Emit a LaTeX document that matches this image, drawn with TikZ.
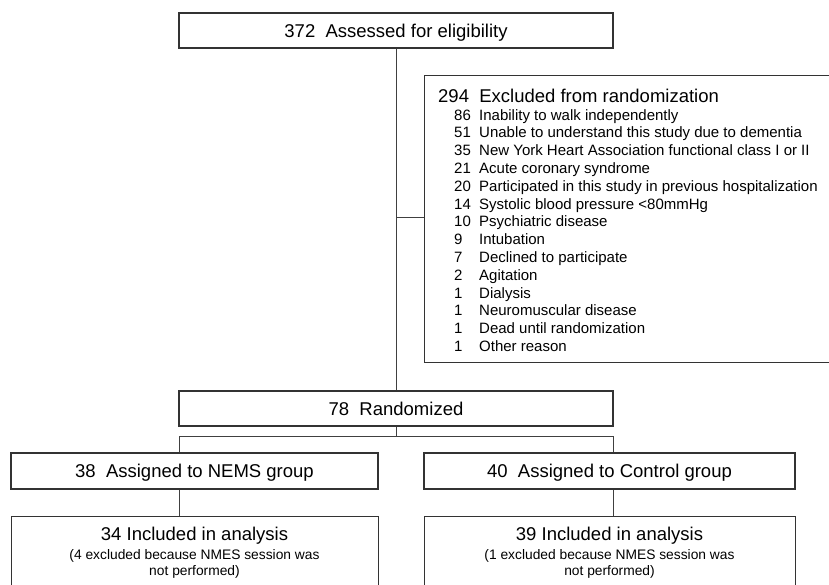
\documentclass[tikz,border=0pt]{standalone}
\usepackage{fontspec}
\setmainfont{Liberation Sans}
\begin{document}
\begin{tikzpicture}[x=1pt,y=-1pt,
  box/.style={draw=black!80,line width=1.1pt,rectangle,inner sep=0pt},
  conn/.style={draw=black!75,line width=0.8pt},
  big/.style={font=\fontsize{18.5}{20}\selectfont},
  item/.style={font=\fontsize{15}{17}\selectfont,anchor=base west,inner sep=0pt},
  sub/.style={font=\fontsize{13.8}{16}\selectfont,anchor=base,inner sep=0pt}]
\useasboundingbox (0,0) rectangle (829,584);
% top box
\node[box,big,minimum width=434pt,minimum height=35pt,text height=13pt,text depth=0pt] (top) at (396,30.5) {372\ \ Assessed for eligibility};
% excluded box
\node[box,anchor=north west,minimum width=420pt,minimum height=287pt] (excl) at (424,75) {};
\node[big,anchor=base west,inner sep=0pt] (exh) at (438,102) {294\ \ Excluded from randomization};
\foreach \n/\t [count=\i from 0] in {86/Inability to walk independently,
  51/Unable to understand this study due to dementia,
  35/New York Heart Association functional class I or II,
  21/Acute coronary syndrome,
  20/Participated in this study in previous hospitalization,
  14/Systolic blood pressure <80mmHg,
  10/Psychiatric disease,
  9/Intubation,
  7/Declined to participate,
  2/Agitation,
  1/Dialysis,
  1/Neuromuscular disease,
  1/Dead until randomization,
  1/Other reason}{
  \node[item] (en\i) at (454,{120+17.8*\i}) {\n};
  \node[item] (et\i) at (479,{120+17.8*\i}) {\t};
}
% randomized
\node[box,big,minimum width=434pt,minimum height=35pt,text height=13pt,text depth=0pt] (rand) at (396,408.5) {78\ \ Randomized};
% assigned
\node[box,big,minimum width=367pt,minimum height=36pt,text height=13pt,text depth=0pt] (na) at (194.5,471) {38\ \ Assigned to NEMS group};
\node[box,big,minimum width=371pt,minimum height=36pt,text height=13pt,text depth=0pt] (ca) at (609.5,471) {40\ \ Assigned to Control group};
% included
\node[box,anchor=north west,minimum width=367pt,minimum height=100pt] (ni) at (11,516) {};
\node[box,anchor=north west,minimum width=371pt,minimum height=100pt] (ci) at (424,516) {};
\node[big,anchor=base,inner sep=0pt] (nit) at (194.5,540) {34 Included in analysis};
\node[sub] (nis1) at (194.5,559) {(4 excluded because NMES session was};
\node[sub] (nis2) at (194.5,575.5) {not performed)};
\node[big,anchor=base,inner sep=0pt] (cit) at (609.5,540) {39 Included in analysis};
\node[sub] (cis1) at (609.5,559) {(1 excluded because NMES session was};
\node[sub] (cis2) at (609.5,575.5) {not performed)};
% connectors
\coordinate (j) at (396,217);
\coordinate (bl) at (179,436);
\coordinate (br) at (613,436);
\draw[conn] (top.south) -- (rand.north);
\draw[conn] (j) -- (j -| excl.west);
\draw[conn] (rand.south) -- (rand.south |- bl);
\draw[conn] (bl |- na.north) -- (bl) -- (br) -- (br |- ca.north);
\draw[conn] (bl |- na.south) -- (bl |- ni.north);
\draw[conn] (br |- ca.south) -- (br |- ci.north);
\end{tikzpicture}
\end{document}
